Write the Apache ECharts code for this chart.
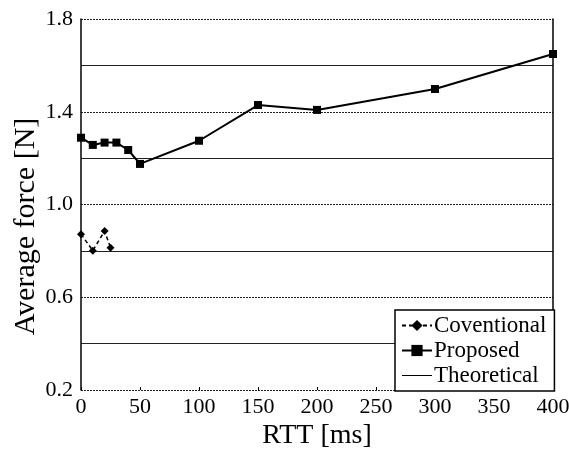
<!DOCTYPE html>
<html><head><meta charset="utf-8">
<script src="https://cdn.jsdelivr.net/npm/echarts@6/dist/echarts.min.js"></script>
<style>html,body{margin:0;padding:0;background:#fff;overflow:hidden}#c{width:569px;height:452px}</style>
</head><body><div id="c"></div>
<script>
const xTicks = [0, 50, 100, 150, 200, 250, 300, 350, 400];
const yTicks = [0.2, 0.6, 1.0, 1.4, 1.8];
const conventionalRTT = [0, 10, 20, 25];
const conventionalForce = [0.872, 0.801, 0.886, 0.814];
const proposedRTT = [0, 10, 20, 30, 40, 50, 100, 150, 200, 300, 400];
const proposedForce = [1.288, 1.257, 1.267, 1.267, 1.235, 1.175, 1.275, 1.429, 1.408, 1.498, 1.649];
const seriesNames = ['Coventional', 'Proposed', 'Theoretical'];

const font = 'Liberation Serif';
const chart = echarts.init(document.getElementById('c'), null, {renderer: 'canvas', width: 569, height: 452});
chart.setOption({
  backgroundColor: '#fff',
  animation: false,
  grid: {left: 81, right: 16, top: 19, bottom: 62, containLabel: false, outerBoundsMode: 'none'},
  legend: {
    orient: 'vertical', left: 395, top: 310,
    data: [
      {name: seriesNames[0]},
      {name: seriesNames[1]},
      {name: seriesNames[2], icon: 'path://M0,6.5L30,6.5L30,7.5L0,7.5Z'}
    ],
    backgroundColor: '#fff', borderColor: '#000', borderWidth: 1.5,
    padding: [4, 8, 4, 6], itemGap: 2, itemWidth: 30, itemHeight: 14,
    textStyle: {fontFamily: font, fontSize: 23, color: '#000', padding: [0, 0, 0, -3]}
  },
  xAxis: {
    type: 'value', min: xTicks[0], max: xTicks[xTicks.length - 1], interval: 50,
    name: 'RTT [ms]', nameLocation: 'middle', nameGap: 32, nameMoveOverlap: false,
    nameTextStyle: {fontFamily: font, fontSize: 28, color: '#000'},
    axisLine: {show: false},
    axisTick: {show: true, inside: true, length: 3, lineStyle: {color: '#000'}},
    axisLabel: {fontFamily: font, fontSize: 22, color: '#000', margin: 6},
    splitLine: {show: false}
  },
  yAxis: [{
    type: 'value', min: yTicks[0], max: yTicks[yTicks.length - 1], interval: 0.4,
    name: 'Average force [N]', nameLocation: 'middle', nameGap: 40, nameMoveOverlap: false,
    nameTextStyle: {fontFamily: font, fontSize: 30, color: '#000', padding: [0, 44, 0, 0]},
    axisLine: {show: true, lineStyle: {color: '#000', width: 1.5}},
    axisTick: {show: false},
    axisLabel: {fontFamily: font, fontSize: 22, color: '#000', margin: 8,
      formatter: v => v.toFixed(1)},
    splitLine: {show: true, lineStyle: {color: '#222', type: [2, 1], width: 1}},
    minorTick: {show: false, splitNumber: 2},
    minorSplitLine: {show: true, lineStyle: {color: '#222', width: 1}}
  }, {
    type: 'value', position: 'right', min: yTicks[0], max: yTicks[yTicks.length - 1],
    axisLine: {show: true, lineStyle: {color: '#000', width: 1.5}},
    axisTick: {show: false}, axisLabel: {show: false}, splitLine: {show: false}
  }],
  series: [
    {
      name: seriesNames[0], type: 'line',
      data: conventionalRTT.map((x, i) => [x, conventionalForce[i]]),
      symbol: 'diamond', symbolSize: 8,
      lineStyle: {color: '#000', width: 1.5, type: [4, 3]},
      itemStyle: {color: '#000'}
    },
    {
      name: seriesNames[1], type: 'line',
      data: proposedRTT.map((x, i) => [x, proposedForce[i]]),
      symbol: 'rect', symbolSize: 8,
      lineStyle: {color: '#000', width: 2},
      itemStyle: {color: '#000'}
    },
    {
      name: seriesNames[2], type: 'line', data: [], symbol: 'none',
      lineStyle: {color: '#000', width: 1}, itemStyle: {color: '#000'}
    }
  ]
});
</script></body></html>
